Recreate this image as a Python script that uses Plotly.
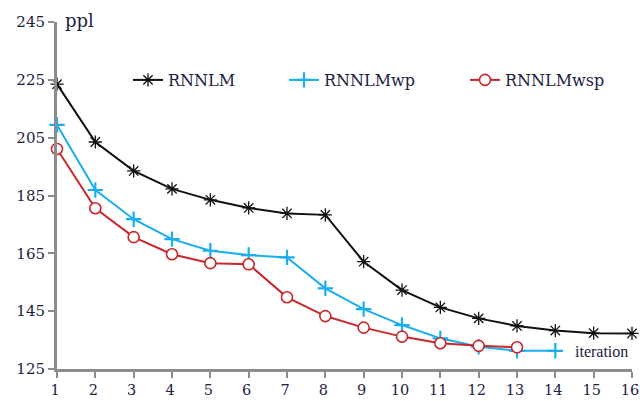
import plotly.graph_objects as go

iterations = list(range(1, 17))
rnnlm = [223.5, 203.5, 193.5, 187.3, 183.5, 180.7, 178.8, 178.3, 162.1, 152.3, 146.3, 142.5, 139.9, 138.3, 137.4, 137.3]
rnnlm_wp = [209.4, 186.9, 176.8, 169.9, 165.9, 164.4, 163.6, 152.9, 145.7, 140.2, 135.6, 132.7, 131.3, 131.3]
rnnlm_wsp = [201.1, 180.6, 170.6, 164.7, 161.6, 161.2, 149.8, 143.3, 139.3, 136.2, 133.9, 133.0, 132.5]
y_ticks = [125, 145, 165, 185, 205, 225, 245]

FONT = "DejaVu Serif"
TXT = "#1c2143"
AX = "#8c8c8c"

L, R, T, B = 57, 8, 22, 32
W, H = 640, 401
pw, ph = W - L - R, H - T - B

def px_x(p):
    return (p - L) / pw

def px_y(p):
    return (H - B - p) / ph

fig = go.Figure()
fig.add_trace(go.Scatter(
    x=iterations[:len(rnnlm)], y=rnnlm, name="RNNLM", mode="lines+markers", showlegend=True,
    line=dict(color="#111111", width=2), cliponaxis=False,
    marker=dict(symbol="asterisk-open", size=11, color="#111111", line=dict(width=1.3, color="#111111")),
    legend="legend"))
fig.add_trace(go.Scatter(
    x=iterations[:len(rnnlm_wp)], y=rnnlm_wp, name="RNNLMwp", mode="lines+markers", showlegend=True,
    line=dict(color="#1aaef0", width=2), cliponaxis=False,
    marker=dict(symbol="cross-thin-open", size=11, color="#1aaef0", line=dict(width=2.2, color="#1aaef0")),
    legend="legend2"))
fig.add_trace(go.Scatter(
    x=iterations[:len(rnnlm_wsp)], y=rnnlm_wsp, name="RNNLMwsp", mode="lines+markers", showlegend=True,
    line=dict(color="#c8282c", width=2), cliponaxis=False,
    marker=dict(symbol="circle", size=11, color="white", line=dict(width=1.6, color="#c8282c")),
    legend="legend3"))

leg_common = dict(orientation="h", yanchor="middle", xanchor="left",
                  font=dict(family=FONT, size=16, color=TXT), bgcolor="rgba(0,0,0,0)",
                  itemwidth=30, tracegroupgap=0, visible=True)
fig.update_layout(
    width=W, height=H,
    margin=dict(l=L, r=R, t=T, b=B, autoexpand=False),
    paper_bgcolor="white", plot_bgcolor="white",
    showlegend=True,
    legend=dict(x=px_x(128), y=px_y(80), **leg_common),
    legend2=dict(x=px_x(284), y=px_y(80), **leg_common),
    legend3=dict(x=px_x(465), y=px_y(80), **leg_common),
    xaxis=dict(range=[1, 16], tickmode="array", tickvals=iterations, ticktext=[str(i) for i in iterations],
               showgrid=False, zeroline=False, showline=True, linecolor=AX, linewidth=3, automargin=False,
               ticks="outside", ticklen=6, tickwidth=2, tickcolor=AX, ticklabeloverflow="allow",
               ticklabelshift=-2,
               tickfont=dict(family=FONT, size=14.5, color=TXT)),
    yaxis=dict(range=[125, 245], tickmode="array", tickvals=y_ticks,
               showgrid=False, zeroline=False, showline=True, linecolor=AX, linewidth=3, automargin=False,
               ticks="outside", ticklen=6, tickwidth=2, tickcolor=AX, ticklabeloverflow="allow",
               tickfont=dict(family=FONT, size=15, color=TXT)),
    annotations=[
        dict(text="ppl", x=px_x(63), y=px_y(21), xref="paper", yref="paper", xanchor="left", yanchor="middle",
             showarrow=False, font=dict(family=FONT, size=18, color=TXT)),
        dict(text="iteration", x=px_x(630), y=px_y(351), xref="paper", yref="paper", xanchor="right", yanchor="middle",
             showarrow=False, font=dict(family="Liberation Serif", size=16, color=TXT)),
    ],
)
fig.write_html("out.html", config={"displayModeBar": False},
               post_script="document.body.style.margin='0';document.body.style.overflow='hidden';")
